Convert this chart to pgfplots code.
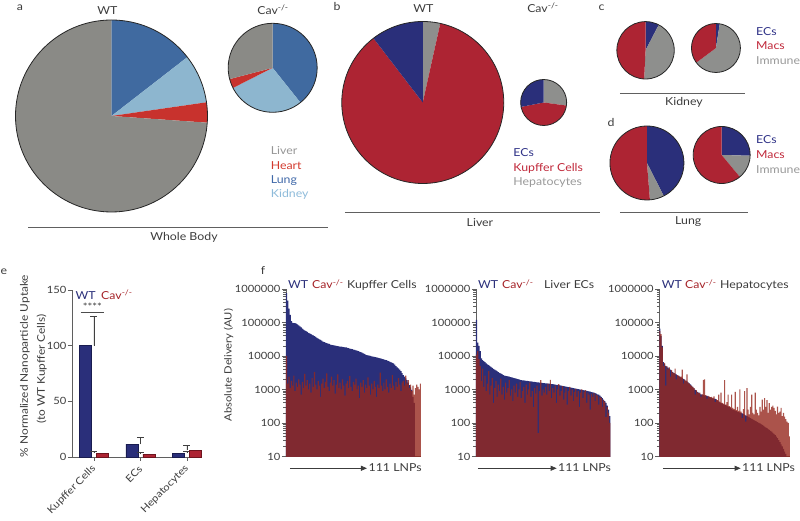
\documentclass[border=0pt]{standalone}
\usepackage{pgfplots}
\pgfplotsset{compat=1.18}
\usepackage{pgfplotstable}
\usepackage{fontspec}
\setmainfont{Lato}[FakeStretch=1.12]
\usetikzlibrary{arrows.meta}

\definecolor{navy}{RGB}{42,47,122}
\definecolor{navydk}{RGB}{25,28,80}
\definecolor{kred}{RGB}{173,36,51}
\definecolor{kreddk}{RGB}{110,20,30}
\definecolor{pgray}{RGB}{142,143,141}
\definecolor{aliver}{RGB}{138,138,134}
\definecolor{aheart}{RGB}{200,50,45}
\definecolor{alung}{RGB}{64,106,160}
\definecolor{akid}{RGB}{141,182,207}
\definecolor{cavbar}{RGB}{150,40,30}
\definecolor{axisgray}{RGB}{95,95,95}
\definecolor{txtgray}{RGB}{60,60,60}
\definecolor{cavtxt}{RGB}{165,35,40}
\definecolor{lgliver}{RGB}{150,150,150}
\definecolor{lgheart}{RGB}{210,58,46}
\definecolor{lglung}{RGB}{63,104,168}
\definecolor{lgkid}{RGB}{142,187,218}
\definecolor{lgec}{RGB}{47,50,135}
\definecolor{lgkc}{RGB}{192,40,58}
\definecolor{lghep}{RGB}{153,153,153}

\newcommand\fA{\fontsize{11pt}{13pt}\selectfont}
\newcommand\fB{\fontsize{10pt}{12pt}\selectfont}
\newcommand\fC{\fontsize{10.6pt}{12pt}\selectfont}

% panel f data: i, WT, Cav-/-
\pgfplotstableread{
i wt cav
1 750000 10000
2 450000 1500
3 260000 2400
4 170000 1100
5 110000 1800
6 98000 1300
7 96000 2600
8 95000 900
9 93000 1600
10 88000 1200
11 82000 2000
12 76000 1400
13 71000 700
14 66000 1700
15 61000 1100
16 58000 2900
17 55000 1300
18 52000 1900
19 49000 1000
20 47000 1500
21 45000 800
22 43000 2200
23 41000 1200
24 39000 3300
25 37000 1400
26 35000 1000
27 33000 1800
28 31500 1300
29 30000 600
30 28500 1500
31 27000 2100
32 26000 1100
33 25000 1700
34 24000 3000
35 23500 1200
36 23000 900
37 22000 1600
38 21500 2400
39 21000 1300
40 20700 1900
41 20400 750
42 20000 1400
43 19700 2800
44 19400 1100
45 19100 1600
46 18900 1000
47 18600 2000
48 18400 1300
49 18200 650
50 18000 1500
51 17500 1800
52 17100 1100
53 16700 2500
54 16300 1200
55 15900 900
56 15500 1700
57 15100 1400
58 14800 2100
59 14500 1000
60 14000 1300
61 13500 550
62 13000 1600
63 12500 1200
64 12000 1900
65 11500 800
66 11000 1400
67 10600 1100
68 10400 2300
69 10200 1300
70 10000 700
71 9800 1500
72 9600 1000
73 9400 1800
74 9250 1200
75 9100 600
76 8900 1400
77 8700 1100
78 8500 3200
79 8300 1300
80 8100 900
81 7900 1600
82 7700 1000
83 7500 2000
84 7300 1200
85 7000 800
86 6700 1500
87 6400 1100
88 6200 2700
89 6000 1300
90 5500 950
91 5000 1700
92 4600 1200
93 4300 2200
94 3900 1400
95 3500 900
96 3100 1600
97 2700 1800
98 2400 1300
99 2150 2600
100 1900 1500
101 1600 1900
102 1350 1100
103 1150 1400
104 980 900
105 600 1300
106 400 700
107 nan 1100
108 nan 1400
109 nan 1200
110 nan 1000
111 nan 1500
}\kupffer

\pgfplotstableread{
i wt cav
1 120000 11000
2 25000 14000
3 20000 8000
4 14000 5000
5 8500 1800
6 7500 4200
7 7000 1200
8 6500 2600
9 6000 900
10 5600 1500
11 5300 3500
12 5000 700
13 4700 1300
14 4400 2200
15 4100 400
16 3900 1100
17 3700 1800
18 3500 600
19 3300 1400
20 3150 900
21 3000 2100
22 2850 700
23 2700 1200
24 2600 500
25 2550 1600
26 2500 800
27 2450 1100
28 2400 1900
29 2350 650
30 2300 1000
31 2250 450
32 2200 1300
33 2150 800
34 2100 1500
35 2050 600
36 2000 1000
37 1950 1700
38 1900 550
39 1880 900
40 1860 1200
41 1840 400
42 1820 1400
43 1800 700
44 1780 1000
45 1760 1600
46 1740 600
47 1720 900
48 1700 300
49 1680 1100
50 1660 750
51 1640 1300
52 1620 50
53 1600 900
54 1590 1900
55 1575 650
56 1560 1000
57 1545 800
58 1530 1200
59 1515 700
60 1500 1500
61 1485 900
62 1470 1950
63 1455 550
64 1440 1100
65 1420 800
66 1400 1300
67 1380 400
68 1360 1000
69 1340 1450
70 1320 650
71 1300 900
72 1280 1250
73 1260 500
74 1240 800
75 1220 1100
76 1200 350
77 1180 900
78 1160 1200
79 1140 650
80 1120 1000
81 1100 450
82 1080 850
83 1060 1050
84 1040 600
85 1020 900
86 1000 300
87 985 800
88 970 1000
89 955 550
90 940 850
91 925 950
92 910 400
93 900 800
94 880 700
95 860 250
96 840 750
97 820 600
98 800 780
99 780 450
100 750 700
101 720 650
102 700 350
103 650 600
104 600 550
105 550 300
106 500 480
107 450 420
108 400 150
109 330 300
110 250 200
111 160 100
}\liverec

\pgfplotstableread{
i wt cav
1 65000 55000
2 40000 45000
3 20000 18000
4 6500 5000
5 5800 6200
6 5100 1300
7 4800 5000
8 4500 4000
9 4200 4600
10 3900 2400
11 3600 3800
12 3300 3200
13 3100 3000
14 2950 4200
15 2800 2000
16 2650 2700
17 2500 2600
18 2400 2300
19 2300 2400
20 2200 3900
21 2080 1500
22 1960 2000
23 1850 1800
24 1750 2800
25 1630 1600
26 1520 1500
27 1410 1350
28 1300 1250
29 1190 1200
30 1080 1100
31 980 700
32 890 950
33 850 820
34 800 780
35 750 800
36 710 600
37 700 720
38 690 1900
39 670 2000
40 650 680
41 640 520
42 620 640
43 600 610
44 580 590
45 560 600
46 540 560
47 530 620
48 520 420
49 500 510
50 470 480
51 440 700
52 415 430
53 390 800
54 375 400
55 360 380
56 350 1900
57 340 350
58 325 420
59 310 700
60 295 320
61 280 300
62 265 700
63 250 280
64 240 260
65 235 850
66 225 240
67 215 300
68 210 230
69 205 1000
70 200 220
71 195 140
72 185 260
73 178 900
74 170 110
75 162 1100
76 155 250
77 148 180
78 140 300
79 133 700
80 127 200
81 121 180
82 116 800
83 111 250
84 106 200
85 101 170
86 97 300
87 93 220
88 88 500
89 83 250
90 78 550
91 74 300
92 70 480
93 66 200
94 62 390
95 58 250
96 55 300
97 51 330
98 47 280
99 43 230
100 39 180
101 35 310
102 31 200
103 27 220
104 23 280
105 20 160
106 17 200
107 14 155
108 12 130
109 nan 110
110 nan 100
111 nan 40
}\hepato

\begin{document}
\begin{tikzpicture}
\begin{scope}[x=1pt,y=1pt]
\path[use as bounding box] (0,0) rectangle (800,-514);
\end{scope}

% ---------------- pies ----------------
\begin{axis}[at={(0pt,-514pt)}, anchor=south west, scale only axis, width=800pt, height=514pt,
  xmin=0, xmax=800, ymin=-514, ymax=0, hide axis, clip=false]
% a WT: Lung 14.5, Kidney 8.2, Heart 3.4, Liver 73.9 (%)
\fill[alung] (axis cs:111.5,-116) -- ++(90:96pt) arc[start angle=90, end angle=37.8, radius=96pt] -- cycle;
\fill[akid] (axis cs:111.5,-116) -- ++(37.8:96pt) arc[start angle=37.8, end angle=8.2, radius=96pt] -- cycle;
\fill[aheart] (axis cs:111.5,-116) -- ++(8.2:96pt) arc[start angle=8.2, end angle=-4, radius=96pt] -- cycle;
\fill[aliver] (axis cs:111.5,-116) -- ++(-4:96pt) arc[start angle=-4, end angle=-270, radius=96pt] -- cycle;
\draw[black!85, line width=0.8pt] (axis cs:111.5,-116) circle[radius=96pt];
% a Cav: Lung 39.3, Kidney 28.3, Heart 3.4, Liver 29
\fill[alung] (axis cs:272.7,-67.8) -- ++(90:44.5pt) arc[start angle=90, end angle=-51.4, radius=44.5pt] -- cycle;
\fill[akid] (axis cs:272.7,-67.8) -- ++(-51.4:44.5pt) arc[start angle=-51.4, end angle=-153.1, radius=44.5pt] -- cycle;
\fill[aheart] (axis cs:272.7,-67.8) -- ++(-153.1:44.5pt) arc[start angle=-153.1, end angle=-165.3, radius=44.5pt] -- cycle;
\fill[aliver] (axis cs:272.7,-67.8) -- ++(-165.3:44.5pt) arc[start angle=-165.3, end angle=-270, radius=44.5pt] -- cycle;
\draw[black!85, line width=0.8pt] (axis cs:272.7,-67.8) circle[radius=44.5pt];
% b WT: Hepatocytes 3.5, Kupffer 86.1, ECs 10.4
\fill[pgray] (axis cs:422.8,-102.5) -- ++(90:81pt) arc[start angle=90, end angle=77.5, radius=81pt] -- cycle;
\fill[kred] (axis cs:422.8,-102.5) -- ++(77.5:81pt) arc[start angle=77.5, end angle=-232.5, radius=81pt] -- cycle;
\fill[navy] (axis cs:422.8,-102.5) -- ++(-232.5:81pt) arc[start angle=-232.5, end angle=-270, radius=81pt] -- cycle;
\draw[black!85, line width=0.8pt] (axis cs:422.8,-102.5) circle[radius=81pt];
% b Cav: Hepatocytes 27.1, Kupffer 44.8, ECs 28.1
\fill[pgray] (axis cs:543.7,-102.5) -- ++(90:23pt) arc[start angle=90, end angle=-7.7, radius=23pt] -- cycle;
\fill[kred] (axis cs:543.7,-102.5) -- ++(-7.7:23pt) arc[start angle=-7.7, end angle=-169, radius=23pt] -- cycle;
\fill[navy] (axis cs:543.7,-102.5) -- ++(-169:23pt) arc[start angle=-169, end angle=-270, radius=23pt] -- cycle;
\draw[black!85, line width=0.8pt] (axis cs:543.7,-102.5) circle[radius=23pt];
% c WT: ECs 7.6, Immune 43.2, Macs 49.2
\fill[navy] (axis cs:645.6,-50.3) -- ++(90:28.7pt) arc[start angle=90, end angle=62.6, radius=28.7pt] -- cycle;
\fill[pgray] (axis cs:645.6,-50.3) -- ++(62.6:28.7pt) arc[start angle=62.6, end angle=-92.8, radius=28.7pt] -- cycle;
\fill[kred] (axis cs:645.6,-50.3) -- ++(-92.8:28.7pt) arc[start angle=-92.8, end angle=-270, radius=28.7pt] -- cycle;
\draw[black!85, line width=0.8pt] (axis cs:645.6,-50.3) circle[radius=28.7pt];
% c Cav: ECs 2.5, Immune 62.3, Macs 35.2
\fill[navy] (axis cs:716,-48) -- ++(90:24.5pt) arc[start angle=90, end angle=81, radius=24.5pt] -- cycle;
\fill[pgray] (axis cs:716,-48) -- ++(81:24.5pt) arc[start angle=81, end angle=-143.3, radius=24.5pt] -- cycle;
\fill[kred] (axis cs:716,-48) -- ++(-143.3:24.5pt) arc[start angle=-143.3, end angle=-270, radius=24.5pt] -- cycle;
\draw[black!85, line width=0.8pt] (axis cs:716,-48) circle[radius=24.5pt];
% d WT: ECs 42.5, Immune 6.2, Macs 51.3
\fill[navy] (axis cs:647,-163) -- ++(90:37pt) arc[start angle=90, end angle=-63, radius=37pt] -- cycle;
\fill[pgray] (axis cs:647,-163) -- ++(-63:37pt) arc[start angle=-63, end angle=-85.4, radius=37pt] -- cycle;
\fill[kred] (axis cs:647,-163) -- ++(-85.4:37pt) arc[start angle=-85.4, end angle=-270, radius=37pt] -- cycle;
\draw[black!85, line width=0.8pt] (axis cs:647,-163) circle[radius=37pt];
% d Cav: ECs 25.4, Immune 13.6, Macs 61
\fill[navy] (axis cs:721.7,-155) -- ++(90:28.5pt) arc[start angle=90, end angle=-1.5, radius=28.5pt] -- cycle;
\fill[pgray] (axis cs:721.7,-155) -- ++(-1.5:28.5pt) arc[start angle=-1.5, end angle=-50.3, radius=28.5pt] -- cycle;
\fill[kred] (axis cs:721.7,-155) -- ++(-50.3:28.5pt) arc[start angle=-50.3, end angle=-270, radius=28.5pt] -- cycle;
\draw[black!85, line width=0.8pt] (axis cs:721.7,-155) circle[radius=28.5pt];
\end{axis}

% ---------------- panel e ----------------
\begin{axis}[at={(72pt,-457pt)}, anchor=south west, scale only axis, width=128pt, height=167pt,
  xmin=-0.473, xmax=2.28, ymin=0, ymax=150,
  axis x line*=bottom, axis y line*=left,
  axis line style={axisgray, line width=0.8pt},
  ytick={0,50,100,150}, yticklabels={0,50,100,150},
  xtick={0,1,2}, xticklabels={Kupffer Cells,ECs,Hepatocytes},
  tick align=outside, major tick length=4pt,
  tick style={axisgray, line width=0.7pt},
  yticklabel style={font=\fB, text=txtgray, inner sep=1.5pt},
  xticklabel style={font=\fB, text=txtgray, xshift=2.5pt, yshift=-4pt, rotate=45, anchor=east},
  clip=false]
\addplot[ybar, bar width=12pt, bar shift=-8.5pt, fill=navy, draw=navydk, line width=0.6pt,
  error bars/.cd, y dir=plus, y explicit,
  error bar style={color=gray!50!black, line width=0.9pt},
  error mark options={rotate=90, mark size=3.5pt, line width=0.9pt, color=gray!50!black}]
  coordinates {(0,100) +- (0,26) (1,11.5) +- (0,6.2) (2,3.5) +- (0,1.8)};
\addplot[ybar, bar width=12pt, bar shift=8.5pt, fill=kred, draw=kreddk, line width=0.6pt,
  error bars/.cd, y dir=plus, y explicit,
  error bar style={color=gray!50!black, line width=0.9pt},
  error mark options={rotate=90, mark size=3.5pt, line width=0.9pt, color=gray!50!black}]
  coordinates {(0,3.5) +- (0,1.3) (1,2.5) +- (0,1.8) (2,6) +- (0,4.5)};
\end{axis}

% ---------------- panel f ----------------
\begin{axis}[at={(286pt,-456.5pt)}, anchor=south west, scale only axis, width=135pt, height=167.5pt,
    ymode=log, ymin=10, ymax=1000000, xmin=0.5, xmax=111.5,
    axis x line*=bottom, axis y line*=left,
    axis line style={axisgray, line width=0.8pt},
    xtick=\empty,
    ytick={10,100,1000,10000,100000,1000000},
    yticklabels={10,100,1000,10000,100000,1000000},
    minor ytick={20,30,40,50,60,70,80,90,200,300,400,500,600,700,800,900,2000,3000,4000,5000,6000,7000,8000,9000,20000,30000,40000,50000,60000,70000,80000,90000,200000,300000,400000,500000,600000,700000,800000,900000},
    tick align=outside, major tick length=4pt, minor tick length=2.5pt,
    tick style={axisgray, line width=0.7pt},
    yticklabel style={font=\fB, text=txtgray, inner sep=1.5pt}]
\addplot[ybar, bar width=1, bar shift=0pt, fill=navy, draw=none] table[x=i, y=wt] {\kupffer};
\addplot[ybar, bar width=1, bar shift=0pt, fill=cavbar, fill opacity=0.8, draw=none] table[x=i, y=cav] {\kupffer};
\end{axis}
\begin{axis}[at={(476pt,-456.5pt)}, anchor=south west, scale only axis, width=134.3pt, height=167.5pt,
    ymode=log, ymin=10, ymax=1000000, xmin=0.5, xmax=111.5,
    axis x line*=bottom, axis y line*=left,
    axis line style={axisgray, line width=0.8pt},
    xtick=\empty,
    ytick={10,100,1000,10000,100000,1000000},
    yticklabels={10,100,1000,10000,100000,1000000},
    minor ytick={20,30,40,50,60,70,80,90,200,300,400,500,600,700,800,900,2000,3000,4000,5000,6000,7000,8000,9000,20000,30000,40000,50000,60000,70000,80000,90000,200000,300000,400000,500000,600000,700000,800000,900000},
    tick align=outside, major tick length=4pt, minor tick length=2.5pt,
    tick style={axisgray, line width=0.7pt},
    yticklabel style={font=\fB, text=txtgray, inner sep=1.5pt}]
\addplot[ybar, bar width=1, bar shift=0pt, fill=navy, draw=none] table[x=i, y=wt] {\liverec};
\addplot[ybar, bar width=1, bar shift=0pt, fill=cavbar, fill opacity=0.8, draw=none] table[x=i, y=cav] {\liverec};
\end{axis}
\begin{axis}[at={(659.3pt,-456.5pt)}, anchor=south west, scale only axis, width=130.7pt, height=167.5pt,
    ymode=log, ymin=10, ymax=1000000, xmin=0.5, xmax=111.5,
    axis x line*=bottom, axis y line*=left,
    axis line style={axisgray, line width=0.8pt},
    xtick=\empty,
    ytick={10,100,1000,10000,100000,1000000},
    yticklabels={10,100,1000,10000,100000,1000000},
    minor ytick={20,30,40,50,60,70,80,90,200,300,400,500,600,700,800,900,2000,3000,4000,5000,6000,7000,8000,9000,20000,30000,40000,50000,60000,70000,80000,90000,200000,300000,400000,500000,600000,700000,800000,900000},
    tick align=outside, major tick length=4pt, minor tick length=2.5pt,
    tick style={axisgray, line width=0.7pt},
    yticklabel style={font=\fB, text=txtgray, inner sep=1.5pt}]
\addplot[ybar, bar width=1, bar shift=0pt, fill=navy, draw=none] table[x=i, y=wt] {\hepato};
\addplot[ybar, bar width=1, bar shift=0pt, fill=cavbar, fill opacity=0.8, draw=none] table[x=i, y=cav] {\hepato};
\end{axis}

% ---------------- texts ----------------
\begin{scope}[x=1pt, y=1pt, every node/.style={inner sep=0pt, font=\fA}]
\node[anchor=base, text=txtgray] at (20,-10) {a};
\node[anchor=base, text=txtgray] at (337,-10) {b};
\node[anchor=base, text=txtgray] at (601.5,-10) {c};
\node[anchor=base, text=txtgray] at (611,-127) {d};
\node[anchor=base, text=txtgray] at (4,-275) {e};
\node[anchor=base, text=txtgray] at (263,-275) {f};

\node[anchor=base, text=txtgray] at (107.3,-14) {WT};
\node[anchor=base, text=txtgray] at (273,-14) {Cav\textsuperscript{-/-}};
\node[anchor=base, text=txtgray] at (423.3,-12.7) {WT};
\node[anchor=base, text=txtgray] at (543,-12.7) {Cav\textsuperscript{-/-}};

\node[anchor=base west, text=lgliver] at (270.7,-155) {Liver};
\node[anchor=base west, text=lgheart] at (270.7,-169.3) {Heart};
\node[anchor=base west, text=lglung] at (270.7,-183.5) {Lung};
\node[anchor=base west, text=lgkid] at (270.7,-197.7) {Kidney};

\node[anchor=base west, text=lgec] at (513.3,-156.7) {ECs};
\node[anchor=base west, text=lgkc] at (513.3,-171.2) {Kupffer Cells};
\node[anchor=base west, text=lghep] at (513.3,-185.7) {Hepatocytes};

\node[anchor=base west, text=lgec] at (756,-35) {ECs};
\node[anchor=base west, text=lgkc] at (756,-50) {Macs};
\node[anchor=base west, text=lghep] at (756,-65) {Immune};
\node[anchor=base west, text=lgec] at (756,-143.3) {ECs};
\node[anchor=base west, text=lgkc] at (756,-158.3) {Macs};
\node[anchor=base west, text=lghep] at (756,-173.3) {Immune};

\draw[gray!75!black, line width=1.1pt] (28.3,-227.3) -- (328.3,-227.3);
\node[anchor=base, text=txtgray] at (184,-240.7) {Whole Body};
\draw[gray!75!black, line width=1.1pt] (345,-212.3) -- (600,-212.3);
\node[anchor=base, text=txtgray] at (480,-226.7) {Liver};
\draw[gray!75!black, line width=1.1pt] (620,-93.3) -- (745,-93.3);
\node[anchor=base, text=txtgray] at (684,-106) {Kidney};
\draw[gray!75!black, line width=1.1pt] (620,-212.3) -- (747.7,-212.3);
\node[anchor=base, text=txtgray] at (688.3,-225) {Lung};

% panel e texts
\node[anchor=base west, text=navy] at (75.5,-299.3) {WT};
\node[anchor=base west, text=cavtxt] at (101,-299.3) {Cav\textsuperscript{-/-}};
\draw[gray!60!black, line width=0.8pt] (80.7,-312.3) -- (104,-312.3);
\node[anchor=base, font=\fB, text=txtgray] at (92.3,-311) {****};
\node[rotate=90, font=\fC, text=txtgray] at (25,-366) {\% Normalized Nanoparticle Uptake};
\node[rotate=90, font=\fC, text=txtgray] at (41.7,-369) {(to WT Kupffer Cells)};

% panel f texts
\node[rotate=90, font=\fB, text=txtgray] at (228.5,-365) {Absolute Delivery (AU)};
\node[anchor=base west, text=navy] at (288,-289) {WT};
\node[anchor=base west, text=cavtxt] at (312,-289) {Cav\textsuperscript{-/-}};
\node[anchor=base west, text=txtgray] at (347,-289) {Kupffer Cells};
\node[anchor=base west, text=navy] at (478,-289) {WT};
\node[anchor=base west, text=cavtxt] at (502,-289) {Cav\textsuperscript{-/-}};
\node[anchor=base west, text=txtgray] at (544,-289) {Liver ECs};
\node[anchor=base west, text=navy] at (661.7,-289) {WT};
\node[anchor=base west, text=cavtxt] at (685,-289) {Cav\textsuperscript{-/-}};
\node[anchor=base west, text=txtgray] at (720,-289) {Hepatocytes};

\draw[txtgray, line width=0.8pt, -{Triangle[length=6pt, width=5pt]}] (290,-468.3) -- (367,-468.3);
\node[anchor=base west, text=txtgray] at (368.5,-471.7) {111 LNPs};
\draw[txtgray, line width=0.8pt, -{Triangle[length=6pt, width=5pt]}] (478,-468.3) -- (556.7,-468.3);
\node[anchor=base west, text=txtgray] at (558,-471.7) {111 LNPs};
\draw[txtgray, line width=0.8pt, -{Triangle[length=6pt, width=5pt]}] (663,-468.3) -- (740.7,-468.3);
\node[anchor=base west, text=txtgray] at (742,-471.7) {111 LNPs};
\end{scope}
\end{tikzpicture}
\end{document}
